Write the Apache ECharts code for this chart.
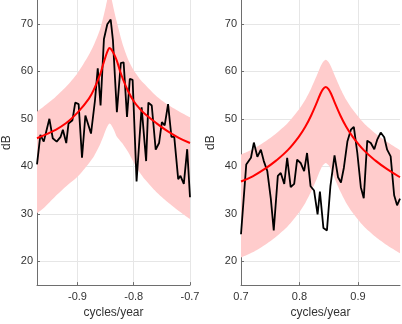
<!DOCTYPE html>
<html>
<head>
<meta charset="utf-8">
<script src="https://cdn.jsdelivr.net/npm/echarts@6/dist/echarts.min.js"></script>
<style>
html, body { margin: 0; padding: 0; background: #fff; }
#main { width: 402px; height: 324px; }
</style>
</head>
<body>
<div id="main"></div>
<script>
// tick labels
var yTicks = [20, 30, 40, 50, 60, 70];
var xTicksL = [-0.9, -0.8, -0.7];
var xTicksR = [0.7, 0.8, 0.9];

// left panel: measured spectrum (black)
var lxData = [-0.972, -0.966, -0.960, -0.950, -0.944, -0.937, -0.930, -0.926, -0.920, -0.916,
    -0.909, -0.904, -0.898, -0.892, -0.886, -0.876, -0.869, -0.864, -0.859, -0.853,
    -0.847, -0.841, -0.837, -0.830, -0.823, -0.818, -0.812, -0.807, -0.802, -0.795,
    -0.786, -0.778, -0.774, -0.768, -0.761, -0.755, -0.750, -0.745, -0.739, -0.733,
    -0.728, -0.721, -0.717, -0.711, -0.705, -0.700];
var lyData = [40.4, 46.6, 45.2, 50.0, 45.9, 45.2, 46.2, 47.7, 44.9, 49.0,
    49.7, 53.4, 53.1, 41.8, 50.7, 46.9, 53.8, 60.6, 52.8, 66.8,
    69.9, 70.9, 66.5, 51.4, 61.7, 61.9, 50.4, 58.4, 58.2, 36.8,
    52.4, 41.1, 53.4, 52.8, 43.5, 44.9, 49.3, 48.6, 53.1, 46.2,
    46.2, 37.3, 38.0, 36.3, 43.6, 33.5];

// left panel: fitted model (red) and band (pink)
var lxFit = [-0.972, -0.96, -0.94, -0.92, -0.90, -0.88, -0.87, -0.86, -0.855, -0.85, -0.846, -0.843,
    -0.84, -0.835, -0.83, -0.825, -0.82, -0.81, -0.80, -0.79, -0.78, -0.76, -0.74, -0.72, -0.70];
var lFit = [45.9, 46.5, 47.6, 49.1, 51.3, 54.2, 56.4, 59.3, 61.2, 63.1, 64.4, 64.9,
    64.6, 63.6, 62.2, 60.3, 58.6, 55.8, 53.7, 52.2, 51.0, 49.1, 47.4, 46.0, 44.9];
var lUpper = [51.5, 52.6, 54.5, 56.8, 59.6, 63.4, 65.8, 68.8, 71.0, 73.5, 75.6, 76.5,
    75.5, 72.8, 70.3, 68.0, 65.8, 62.5, 60.2, 58.5, 57.2, 54.8, 53.0, 51.6, 50.3];
var lLower = [30.1, 31.2, 33.6, 35.8, 37.8, 40.6, 42.3, 44.6, 46.0, 47.6, 48.6, 49.0,
    48.7, 47.6, 46.2, 45.5, 44.8, 43.0, 40.8, 38.8, 37.2, 34.6, 32.5, 30.6, 28.9];

// right panel: measured spectrum (black)
var rxData = [0.700, 0.709, 0.717, 0.722, 0.728, 0.734, 0.739, 0.745, 0.751, 0.756,
    0.763, 0.768, 0.774, 0.779, 0.785, 0.791, 0.796, 0.802, 0.808, 0.813,
    0.819, 0.825, 0.831, 0.835, 0.841, 0.847, 0.853, 0.860, 0.866, 0.871,
    0.876, 0.882, 0.888, 0.893, 0.899, 0.905, 0.910, 0.916, 0.922, 0.928,
    0.933, 0.939, 0.945, 0.950, 0.956, 0.962, 0.967, 0.972];
var ryData = [25.7, 40.4, 41.8, 45.0, 42.0, 43.5, 41.1, 39.0, 33.2, 26.5,
    38.0, 38.6, 36.3, 41.8, 35.6, 36.3, 41.4, 40.7, 39.0, 42.8,
    35.8, 34.9, 29.9, 34.7, 27.0, 26.5, 35.9, 42.3, 37.7, 36.6,
    39.7, 45.2, 47.7, 48.3, 42.8, 35.6, 33.3, 45.4, 44.9, 43.6,
    45.6, 47.1, 46.1, 43.5, 42.1, 33.9, 31.8, 33.2];

// right panel: fitted model (red) and band (pink)
var rxFit = [0.70, 0.72, 0.74, 0.76, 0.78, 0.80, 0.81, 0.82, 0.83, 0.835, 0.84, 0.845,
    0.85, 0.855, 0.86, 0.87, 0.88, 0.89, 0.91, 0.93, 0.95, 0.972];
var rFit = [36.8, 37.9, 39.4, 41.2, 43.4, 46.4, 48.3, 50.7, 53.5, 55.0, 56.2, 56.7,
    56.2, 55.0, 53.5, 50.7, 48.3, 46.4, 43.4, 41.2, 39.4, 37.7];
var rUpper = [42.5, 43.6, 45.1, 46.9, 49.1, 52.1, 54.0, 56.4, 59.2, 60.7, 61.9, 62.4,
    61.9, 60.7, 59.2, 56.4, 54.0, 52.1, 49.1, 46.9, 45.1, 43.4];
var rLower = [20.8, 21.9, 23.4, 25.2, 27.4, 30.4, 32.3, 34.7, 37.5, 39.0, 40.2, 40.7,
    40.2, 39.0, 37.5, 34.7, 32.3, 30.4, 27.4, 25.2, 23.4, 21.7];

function pairs(xs, ys) {
    return xs.map(function (x, i) { return [x, ys[i]]; });
}

var axisColor = '#6e6e6e';
var textColor = '#333';
var gridColor = '#e6e6e6';

function xAxisFor(idx, min, max, ticks) {
    return {
        type: 'value', gridIndex: idx, min: min, max: max,
        name: 'cycles/year', nameLocation: 'middle', nameGap: 19,
        nameTextStyle: { fontFamily: 'Liberation Sans', fontSize: 12, color: textColor },
        axisLine: { show: true, onZero: false, lineStyle: { color: axisColor, width: 1 } },
        axisTick: { show: true, inside: true, length: 3, customValues: ticks, lineStyle: { color: axisColor } },
        axisLabel: { customValues: ticks, margin: 6, fontFamily: 'Liberation Sans', fontSize: 11, color: textColor,
            formatter: function (v) { return v.toFixed(1); } },
        splitLine: { show: true, lineStyle: { color: gridColor, width: 1 } }
    };
}
function yAxisFor(idx) {
    return {
        type: 'value', gridIndex: idx, min: 15, max: 75,
        name: 'dB', nameLocation: 'middle', nameGap: 24,
        nameTextStyle: { fontFamily: 'Liberation Sans', fontSize: 12, color: textColor },
        axisLine: { show: true, lineStyle: { color: axisColor, width: 1 } },
        axisTick: { show: true, inside: true, length: 3, customValues: yTicks, lineStyle: { color: axisColor } },
        axisLabel: { customValues: yTicks, margin: 4, fontFamily: 'Liberation Sans', fontSize: 11, color: textColor },
        splitLine: { show: true, lineStyle: { color: gridColor, width: 1 } }
    };
}

// pink band: one polygon, upper edge left->right then lower edge right->left
function bandSeries(idx, xs, up, lo) {
    return {
        type: 'custom', xAxisIndex: idx, yAxisIndex: idx, clip: true, silent: true, z: 1,
        data: pairs(xs, lo),
        encode: { x: 0, y: 1 },
        renderItem: function (params, api) {
            if (params.dataIndex !== 0) return null;
            var pts = [];
            var n = xs.length;
            pts.push(api.coord([xs[0], up[0]]));
            for (var i = 0; i < n; i++) pts.push(api.coord([xs[i], up[i]]));
            pts.push(api.coord([xs[n - 1], up[n - 1]]));
            pts.push(api.coord([xs[n - 1], lo[n - 1]]));
            for (var j = n - 1; j >= 0; j--) pts.push(api.coord([xs[j], lo[j]]));
            pts.push(api.coord([xs[0], lo[0]]));
            return {
                type: 'polygon',
                shape: { points: pts, smooth: 0.25 },
                style: { fill: '#ffcccc', stroke: null }
            };
        }
    };
}

function panelSeries(idx, xFit, fit, up, lo, xData, yData) {
    return [
        bandSeries(idx, xFit, up, lo),
        {
            type: 'line', xAxisIndex: idx, yAxisIndex: idx,
            data: pairs(xData, yData), symbol: 'none',
            lineStyle: { color: '#000', width: 1.8 }, z: 3
        },
        {
            type: 'line', xAxisIndex: idx, yAxisIndex: idx,
            data: pairs(xFit, fit), smooth: 0.4, symbol: 'none',
            lineStyle: { color: '#ff0000', width: 2 }, z: 4
        }
    ];
}

var myChart = echarts.init(document.getElementById('main'), null, { renderer: 'canvas' });
var option = {
    animation: false,
    backgroundColor: '#fff',
    grid: [
        { left: 31, top: 0, width: 159, height: 290 },
        { left: 241, top: 0, width: 159, height: 290 }
    ],
    xAxis: [xAxisFor(0, -0.972, -0.7, xTicksL), xAxisFor(1, 0.7, 0.972, xTicksR)],
    yAxis: [yAxisFor(0), yAxisFor(1)],
    series: panelSeries(0, lxFit, lFit, lUpper, lLower, lxData, lyData)
        .concat(panelSeries(1, rxFit, rFit, rUpper, rLower, rxData, ryData))
};
myChart.setOption(option);
</script>
</body>
</html>
